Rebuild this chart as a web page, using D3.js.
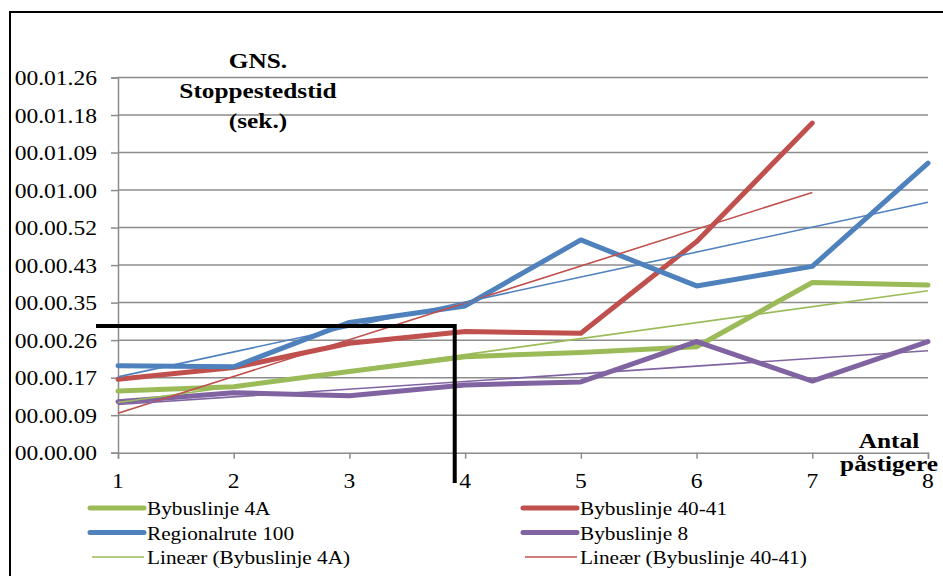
<!DOCTYPE html>
<html>
<head>
<meta charset="utf-8">
<script src="https://cdn.jsdelivr.net/npm/d3@7"></script>
<style>
  html, body { margin: 0; padding: 0; background: #fff; }
  svg { display: block; }
</style>
</head>
<body>
<svg id="chart" width="943" height="576"></svg>
<script>
// Number of boarding passengers (x) and average dwell time in seconds (y)
const categories = [1, 2, 3, 4, 5, 6, 7, 8];
const bybuslinje4A   = [14.2, 15.2, 18.7, 22.1, 23.1, 24.4, 39.2, 38.6];
const bybuslinje4041 = [16.9, 19.6, 25.2, 27.9, 27.5, 48.6, 75.9];
const regionalrute100 = [20.0, 19.8, 30.0, 33.8, 49.0, 38.4, 42.9, 66.7];
const bybuslinje8    = [11.75, 13.8, 13.1, 15.6, 16.3, 25.6, 16.5, 25.6];

// Axis ticks: one step is 0.0001 day (8.64 s), shown as hh.mm.ss-like labels
const yTickStep = 8.64;
const yTickLabels = ["00.00.00", "00.00.09", "00.00.17", "00.00.26", "00.00.35", "00.00.43",
                     "00.00.52", "00.01.00", "00.01.09", "00.01.18", "00.01.26"];
const titleLines = ["GNS.", "Stoppestedstid", "(sek.)"];
const xTitleLines = ["Antal", "påstigere"];

// Marker point (4 passengers ≈ 29 s) highlighted with black guide lines
const guidePoint = { x: 3.91, y: 29.2 };

const series = [
  { name: "Bybuslinje 4A",   values: bybuslinje4A,    color: "#9BBB59" },
  { name: "Bybuslinje 40-41", values: bybuslinje4041, color: "#C0504D" },
  { name: "Regionalrute 100", values: regionalrute100, color: "#4F81BD" },
  { name: "Bybuslinje 8",    values: bybuslinje8,     color: "#8064A2" }
];

const legendItems = [
  { label: "Bybuslinje 4A", color: "#9BBB59", trend: false },
  { label: "Bybuslinje 40-41", color: "#C0504D", trend: false },
  { label: "Regionalrute 100", color: "#4F81BD", trend: false },
  { label: "Bybuslinje 8", color: "#8064A2", trend: false },
  { label: "Lineær (Bybuslinje 4A)", color: "#9BBB59", trend: true },
  { label: "Lineær (Bybuslinje 40-41)", color: "#C0504D", trend: true }
];

const FONT = "Liberation Serif";

const svg = d3.select("#chart");
const W = 943, H = 576;
const plot = { left: 118, right: 928, top: 77.5, bottom: 452.7 };

const x = d3.scaleLinear().domain([1, 8]).range([plot.left, plot.right]);
const y = d3.scaleLinear().domain([0, yTickStep * 10]).range([plot.bottom, plot.top]);

// Horizontally stretched text helper
function label(parent, px, py, str, size, sx, anchor, weight) {
  return parent.append("text")
    .attr("transform", `translate(${px},${py}) scale(${sx},1)`)
    .attr("text-anchor", anchor || "start")
    .attr("font-family", FONT)
    .attr("font-size", size)
    .attr("font-weight", weight || "normal")
    .attr("fill", "#000")
    .text(str);
}

// Outer chart frame (top and left edges)
svg.append("path")
  .attr("d", `M10,${H} L10,12 L${W},12`)
  .attr("fill", "none").attr("stroke", "#000").attr("stroke-width", 2);

const gridColor = "#8c8c8c";
const yTicks = yTickLabels.map((_, i) => i * yTickStep);

// Horizontal gridlines
svg.append("g").selectAll("line").data(yTicks.slice(1)).join("line")
  .attr("x1", plot.left).attr("x2", plot.right)
  .attr("y1", d => y(d)).attr("y2", d => y(d))
  .attr("stroke", gridColor).attr("stroke-width", 1.5);

// Y axis
const yAxis = svg.append("g").attr("transform", `translate(${plot.left},0)`)
  .call(d3.axisLeft(y).tickValues(yTicks).tickSize(7).tickFormat(""));
yAxis.select(".domain").attr("stroke", gridColor).attr("stroke-width", 1.5);
yAxis.selectAll(".tick line").attr("stroke", gridColor).attr("stroke-width", 1.5);

// X axis
const xAxis = svg.append("g").attr("transform", `translate(0,${plot.bottom})`)
  .call(d3.axisBottom(x).tickValues(categories).tickSize(6).tickFormat(""));
xAxis.select(".domain").attr("stroke", gridColor).attr("stroke-width", 1.5);
xAxis.selectAll(".tick line").attr("stroke", gridColor).attr("stroke-width", 1.5);

// Tick labels
const tickG = svg.append("g");
yTicks.forEach((v, i) => label(tickG, 97, y(v) + 7.5, yTickLabels[i], 22, 1.07, "end"));
categories.forEach(c => label(tickG, x(c), 488, String(c), 22, 1.07, "middle"));

// Data lines
const line = d3.line().x((d, i) => x(categories[i])).y(d => y(d));
const seriesG = svg.append("g");
series.forEach(s => {
  seriesG.append("path")
    .attr("d", line(s.values))
    .attr("fill", "none").attr("stroke", s.color).attr("stroke-width", 5)
    .attr("stroke-linejoin", "round").attr("stroke-linecap", "round");
});

// Least-squares trend lines
const trendG = svg.append("g");
series.forEach(s => {
  const xs = s.values.map((_, i) => categories[i]);
  const mx = d3.mean(xs), my = d3.mean(s.values);
  const sxy = d3.sum(xs, (xi, i) => (xi - mx) * (s.values[i] - my));
  const sxx = d3.sum(xs, xi => (xi - mx) ** 2);
  const b = sxy / sxx, a = my - b * mx;
  const x0 = xs[0], x1 = xs[xs.length - 1];
  trendG.append("line")
    .attr("x1", x(x0)).attr("y1", y(a + b * x0))
    .attr("x2", x(x1)).attr("y2", y(a + b * x1))
    .attr("stroke", s.color).attr("stroke-width", 1.6);
});

// Black guide lines
svg.append("path")
  .attr("d", `M96,${y(guidePoint.y)} L${x(guidePoint.x) + 2},${y(guidePoint.y)} M${x(guidePoint.x)},${y(guidePoint.y)} L${x(guidePoint.x)},483`)
  .attr("fill", "none").attr("stroke", "#000").attr("stroke-width", 4);

// Axis titles
const titleG = svg.append("g");
titleLines.forEach((t, i) => label(titleG, 258, 68 + i * 30, t, 22, 1.15, "middle", "bold"));
xTitleLines.forEach((t, i) => label(titleG, 889, 448 + i * 23, t, 22, 1.15, "middle", "bold"));

// Legend
const legendG = svg.append("g");
const colX = [90, 523];
legendItems.forEach((item, i) => {
  const col = i % 2, row = Math.floor(i / 2);
  const sx = colX[col], by = 515 + row * 24.5;
  legendG.append("line")
    .attr("x1", sx + (item.trend ? 2 : 0)).attr("x2", sx + 54)
    .attr("y1", by - 7).attr("y2", by - 7)
    .attr("stroke", item.color)
    .attr("stroke-width", item.trend ? 1.6 : 5)
    .attr("stroke-linecap", item.trend ? "butt" : "round");
  label(legendG, sx + 57, by, item.label, 19, 1.12, "start");
});
</script>
</body>
</html>
